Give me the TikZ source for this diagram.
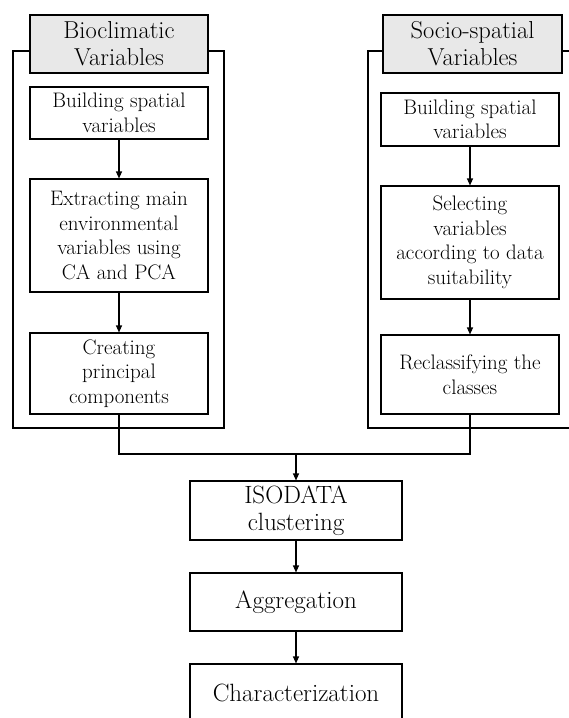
\documentclass[tikz,border=0pt]{standalone}
\usepackage{tikz}
\usetikzlibrary{arrows.meta}

\begin{document}
\begin{tikzpicture}[
  x=1pt, y=-1pt,
  box/.style={draw, line width=1.1pt, inner sep=0pt, align=center, minimum width=178pt,
              font=\fontsize{21}{24.5}\selectfont},
  head/.style={box, fill=gray!18, minimum height=58pt, font=\fontsize{24.5}{27}\selectfont},
  stage/.style={box, minimum width=212pt, minimum height=58pt, font=\fontsize{25}{27}\selectfont},
  frame/.style={draw, line width=1.1pt, inner sep=0pt, minimum height=377pt},
  arr/.style={-{Triangle[length=7pt, width=6pt]}, line width=1.1pt}
]
\useasboundingbox (0,0) rectangle (568,718);

% outer frames
\node[frame, minimum width=211pt] (bioframe) at (118.5,239.5) {};
\node[frame, minimum width=222pt] (socframe) at (479,239.5) {};

% bioclimatic branch
\node[head] (biohead) at (119,44) {Bioclimatic\\Variables};
\node[box, minimum height=52pt] (biobuild) at (119,113) {Building spatial\\variables};
\node[box, minimum height=113pt] (bioextract) at (119,235.5) {Extracting main\\environmental\\variables using\\CA and PCA};
\node[box, minimum height=81pt] (biopc) at (119,373.5) {Creating\\principal\\components};

% socio-spatial branch
\node[head, minimum width=179pt] (sochead) at (472.5,44) {Socio-spatial\\Variables};
\node[box, minimum height=53pt] (socbuild) at (470,119.5) {Building spatial\\variables};
\node[box, minimum height=113pt] (socselect) at (470,242.5) {Selecting\\variables\\according to data\\suitability};
\node[box, minimum height=79pt] (socreclass) at (470,374.5) {Reclassifying the\\classes};

% common stages
\coordinate (merge) at (296,454);
\node[stage, minimum height=59pt] (isodata) at (296,510.5) {ISODATA\\clustering};
\node[stage] (aggr) at (296,602) {Aggregation};
\node[stage] (charact) at (296,693) {Characterization};

\draw[arr] (biobuild) -- (bioextract);
\draw[arr] (bioextract) -- (biopc);
\draw[arr] (socbuild) -- (socselect);
\draw[arr] (socselect) -- (socreclass);
\draw[line width=1.1pt] (biopc.south) |- (merge) -| (socreclass.south);
\draw[arr] (merge) -- (isodata);
\draw[arr] (isodata) -- (aggr);
\draw[arr] (aggr) -- (charact);
\end{tikzpicture}
\end{document}
